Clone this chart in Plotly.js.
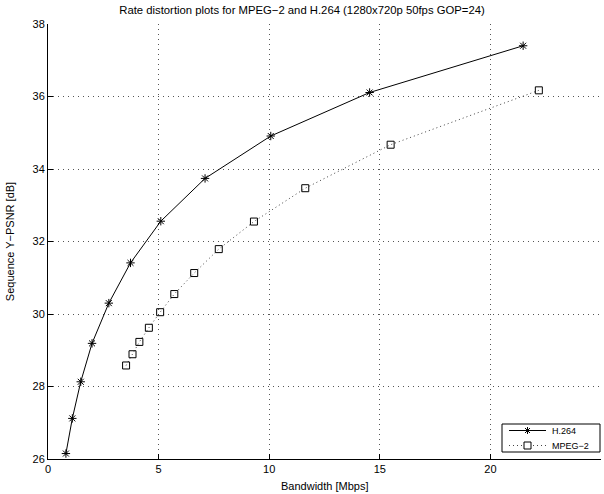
<!DOCTYPE html>
<html>
<head>
<meta charset="utf-8">
<script src="https://cdn.plot.ly/plotly-3.0.1.min.js"></script>
<style>html,body{margin:0;padding:0;background:#fff;}#chart{width:604px;height:494px;}</style>
</head>
<body>
<div id="chart"></div>
<script>
const h264Bandwidth = [0.81, 1.10, 1.48, 1.99, 2.75, 3.73, 5.10, 7.10, 10.07, 14.54, 21.48];
const h264Psnr      = [26.15, 27.12, 28.13, 29.19, 30.30, 31.41, 32.56, 33.74, 34.91, 36.11, 37.40];
const mpeg2Bandwidth = [3.53, 3.82, 4.13, 4.56, 5.07, 5.71, 6.61, 7.72, 9.31, 11.63, 15.49, 22.19];
const mpeg2Psnr      = [28.58, 28.89, 29.23, 29.62, 30.05, 30.55, 31.13, 31.79, 32.55, 33.47, 34.67, 36.17];
const xTicks = [0, 5, 10, 15, 20, 25];
const yTicks = [26, 28, 30, 32, 34, 36, 38];
const seriesNames = ['H.264', 'MPEG\u22122'];

const font = 'Liberation Sans, Arial, Helvetica, sans-serif';
const W = 604, H = 494;
const M = {l: 48, r: 3, t: 24, b: 35};
const pw = W - M.l - M.r, ph = H - M.t - M.b;
const px = (x) => (x - M.l) / pw;          // pixel -> paper x
const py = (y) => (H - M.b - y) / ph;      // pixel -> paper y

const traces = [
  {
    x: h264Bandwidth, y: h264Psnr, name: seriesNames[0], type: 'scatter', mode: 'lines+markers',
    line: {color: '#000', width: 1},
    marker: {symbol: 'asterisk-open', size: 7, color: '#000', line: {color: '#000', width: 1}}
  },
  {
    x: mpeg2Bandwidth, y: mpeg2Psnr, name: seriesNames[1], type: 'scatter', mode: 'lines+markers',
    line: {color: '#444', width: 1, dash: '1px,3px'},
    marker: {symbol: 'square-open', size: 7, color: '#000', line: {color: '#000', width: 1}}
  }
];

const axisCommon = {
  showline: true, linecolor: '#000', linewidth: 1, mirror: false,
  ticks: 'inside', ticklen: 5, tickcolor: '#000', tickwidth: 1,
  showgrid: true, gridcolor: '#555', gridwidth: 1, griddash: '1px,4px',
  zeroline: false, tickfont: {family: font, size: 11, color: '#000'}
};

// Legend (MATLAB-style compact box)
const legBox = {x0: 502, x1: 600, y0: 424, y1: 452};
const rowsY = [430.5, 445.5];
const sampleX0 = 509, sampleX1 = 546, markX = 527.5, textX = 550;
const shapes = [
  {type: 'rect', xref: 'paper', yref: 'paper', x0: px(legBox.x0), x1: px(legBox.x1), y0: py(legBox.y1), y1: py(legBox.y0),
   line: {color: '#000', width: 1}, fillcolor: '#fff', layer: 'above'},
  {type: 'line', xref: 'paper', yref: 'paper', x0: px(sampleX0), x1: px(sampleX1), y0: py(rowsY[0]), y1: py(rowsY[0]),
   line: {color: '#000', width: 1}, layer: 'above'},
  {type: 'line', xref: 'paper', yref: 'paper', x0: px(sampleX0), x1: px(sampleX1), y0: py(rowsY[1]), y1: py(rowsY[1]),
   line: {color: '#444', width: 1, dash: '1px,3px'}, layer: 'above'},
  {type: 'path', xref: 'paper', yref: 'paper', xsizemode: 'pixel', ysizemode: 'pixel',
   xanchor: px(markX), yanchor: py(rowsY[0]),
   path: 'M-3.5,0L3.5,0M0,-3.5L0,3.5M-2.5,-2.5L2.5,2.5M-2.5,2.5L2.5,-2.5',
   line: {color: '#000', width: 1}, layer: 'above'},
  {type: 'rect', xref: 'paper', yref: 'paper', xsizemode: 'pixel', ysizemode: 'pixel',
   xanchor: px(markX), yanchor: py(rowsY[1]), x0: -3.5, x1: 3.5, y0: -3.5, y1: 3.5,
   line: {color: '#000', width: 1}, fillcolor: '#fff', layer: 'above'}
];

const annotations = [
  {xref: 'paper', yref: 'paper', x: px(textX), y: py(rowsY[0]), xanchor: 'left', yanchor: 'middle',
   text: seriesNames[0], showarrow: false, font: {family: font, size: 9, color: '#000'}},
  {xref: 'paper', yref: 'paper', x: px(textX), y: py(rowsY[1]), xanchor: 'left', yanchor: 'middle',
   text: seriesNames[1], showarrow: false, font: {family: font, size: 9, color: '#000'}},
  {xref: 'paper', yref: 'paper', x: px(324.5), y: py(486), xanchor: 'center', yanchor: 'middle',
   text: 'Bandwidth [Mbps]', showarrow: false, font: {family: font, size: 11, color: '#000'}}
];

const layout = {
  width: W, height: H,
  margin: M,
  paper_bgcolor: '#fff', plot_bgcolor: '#fff',
  font: {family: font, size: 11, color: '#000'},
  title: {text: 'Rate distortion plots for MPEG\u22122 and H.264 (1280x720p 50fps GOP=24)',
          font: {family: font, size: 11.3, color: '#000'}, x: 0.5, xanchor: 'center', y: 0.98, yanchor: 'middle', yref: 'container'},
  xaxis: Object.assign({}, axisCommon, {
    range: [0, 25], tickvals: xTicks, ticktext: xTicks.map(String)
  }),
  yaxis: Object.assign({}, axisCommon, {
    range: [26, 38], tickvals: yTicks, ticktext: yTicks.map(String),
    title: {text: 'Sequence Y\u2212PSNR [dB]', font: {family: font, size: 11, color: '#000'}, standoff: 15}
  }),
  showlegend: false,
  shapes: shapes,
  annotations: annotations
};

Plotly.newPlot('chart', traces, layout, {displayModeBar: false, staticPlot: true});
</script>
</body>
</html>
